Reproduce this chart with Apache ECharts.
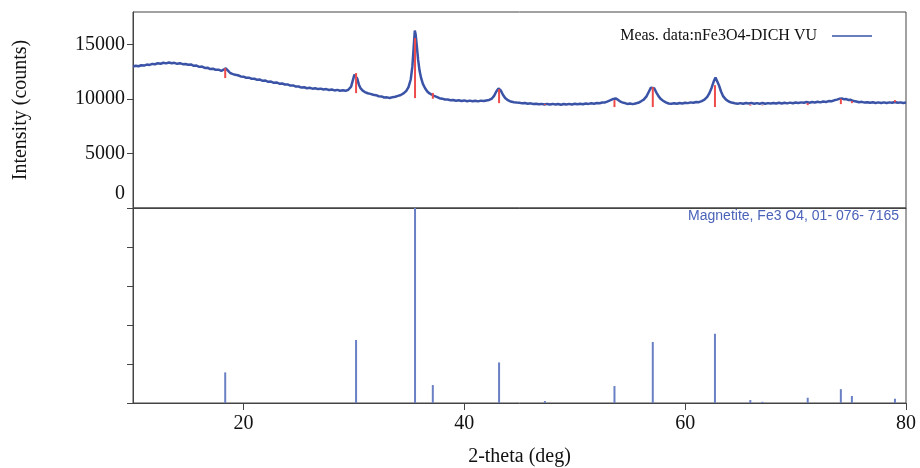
<!DOCTYPE html>
<html>
<head>
<meta charset="utf-8">
<script src="https://cdn.jsdelivr.net/npm/echarts@6/dist/echarts.min.js"></script>
<style>html,body{margin:0;padding:0;background:#fff}#c{width:920px;height:468px}</style>
</head>
<body>
<div id="c"></div>
<script>
// Measured pattern (2-theta, counts)
const theta = [10.0,10.25,10.5,10.75,11.0,11.25,11.5,11.75,12.0,12.25,12.5,12.75,13.0,13.25,13.5,13.75,14.0,14.25,14.5,14.75,15.0,15.25,15.5,15.75,16.0,16.25,16.5,16.75,17.0,17.25,17.5,17.75,18.0,18.2,18.4,18.6,18.8,19.0,19.25,19.5,19.75,20.0,20.25,20.5,20.75,21.0,21.25,21.5,21.75,22.0,22.25,22.5,22.75,23.0,23.25,23.5,23.75,24.0,24.25,24.5,24.75,25.0,25.25,25.5,25.75,26.0,26.25,26.5,26.75,27.0,27.25,27.5,27.75,28.0,28.25,28.5,28.75,29.0,29.25,29.5,29.75,29.9,30.05,30.15,30.3,30.45,30.6,30.8,31.0,31.25,31.5,31.75,32.0,32.25,32.5,32.75,33.0,33.25,33.5,33.75,34.0,34.25,34.5,34.75,34.95,35.15,35.3,35.42,35.52,35.6,35.7,35.82,35.95,36.1,36.25,36.45,36.65,36.85,37.05,37.25,37.5,37.75,38.0,38.25,38.5,38.75,39.0,39.25,39.5,39.75,40.0,40.25,40.5,40.75,41.0,41.25,41.5,41.75,42.0,42.25,42.5,42.7,42.9,43.1,43.3,43.5,43.7,43.95,44.2,44.5,44.75,45.0,45.25,45.5,45.75,46.0,46.25,46.5,46.75,47.0,47.25,47.5,47.75,48.0,48.25,48.5,48.75,49.0,49.25,49.5,49.75,50.0,50.25,50.5,50.75,51.0,51.25,51.5,51.75,52.0,52.25,52.5,52.75,53.0,53.25,53.5,53.7,53.9,54.1,54.3,54.5,54.75,55.0,55.25,55.5,55.75,56.0,56.25,56.5,56.7,56.9,57.05,57.2,57.4,57.6,57.8,58.0,58.25,58.5,58.75,59.0,59.25,59.5,59.75,60.0,60.25,60.5,60.75,61.0,61.25,61.5,61.75,62.0,62.2,62.4,62.6,62.75,62.9,63.05,63.25,63.45,63.7,63.95,64.2,64.5,64.75,65.0,65.25,65.5,65.75,66.0,66.25,66.5,66.75,67.0,67.25,67.5,67.75,68.0,68.25,68.5,68.75,69.0,69.25,69.5,69.75,70.0,70.25,70.5,70.75,71.0,71.25,71.5,71.75,72.0,72.25,72.5,72.75,73.0,73.25,73.5,73.75,74.0,74.2,74.4,74.6,74.8,75.0,75.25,75.5,75.75,76.0,76.25,76.5,76.75,77.0,77.25,77.5,77.75,78.0,78.25,78.5,78.75,79.0,79.25,79.5,79.75,80.0];
const counts = [13000,13060,13020,13110,13080,13170,13140,13230,13200,13300,13250,13340,13280,13360,13290,13330,13240,13300,13210,13230,13150,13180,13060,13080,12960,12990,12860,12880,12760,12790,12690,12700,12600,12700,12830,12620,12400,12320,12230,12190,12080,12060,11960,11970,11860,11870,11770,11790,11680,11700,11590,11610,11500,11530,11420,11440,11340,11350,11240,11260,11150,11160,11060,11090,11000,11040,10960,11000,10920,10960,10880,10920,10840,10880,10800,10850,10770,10820,10760,10860,11150,11700,12250,12350,11900,11350,11000,10780,10650,10540,10480,10400,10360,10260,10250,10150,10160,10100,10180,10220,10300,10380,10520,10760,11100,11800,13000,14800,16300,15900,14900,13600,12600,11900,11400,11000,10700,10520,10420,10300,10200,10080,10040,9960,9960,9890,9920,9850,9900,9830,9880,9810,9860,9800,9850,9790,9860,9820,9880,9920,10050,10300,10700,10980,10800,10400,10100,9900,9780,9720,9680,9660,9610,9640,9580,9610,9550,9580,9520,9560,9500,9560,9510,9560,9500,9550,9490,9550,9500,9560,9510,9570,9520,9580,9530,9600,9560,9620,9580,9640,9620,9690,9700,9800,9900,10020,10060,9950,9800,9700,9650,9560,9590,9540,9600,9660,9800,9950,10250,10650,11050,11190,11000,10600,10250,10000,9850,9700,9600,9580,9620,9570,9640,9600,9670,9630,9700,9660,9740,9720,9820,9950,10200,10550,11050,11650,11980,11800,11300,10700,10250,9950,9780,9680,9620,9580,9630,9570,9640,9600,9650,9570,9630,9580,9640,9570,9630,9590,9650,9590,9660,9600,9670,9610,9680,9620,9690,9640,9700,9660,9730,9670,9730,9690,9760,9700,9780,9740,9820,9800,9890,9950,10040,10060,9980,10000,9920,9940,9820,9780,9720,9750,9680,9720,9660,9710,9650,9700,9640,9700,9640,9700,9660,9740,9660,9700,9640,9680];

// Reference pattern: Magnetite, Fe3 O4, 01-076-7165
const stickTheta = [18.35,30.2,35.54,37.15,43.15,47.3,53.6,57.07,62.7,65.9,67.0,71.1,74.1,75.1,79.0];
const stickRel   = [15.7,32.3,100,9.2,20.8,1.0,8.7,31.3,35.5,1.5,0.6,2.7,7.1,3.6,2.2];
// Red markers drawn on measured pattern (low, high counts)
const redLow  = [11930,10550,10090,10030,9630,9450,9270,9270,9270,9400,9400,9450,9540,9630,9720];
const redHigh = [12840,12390,15600,10570,10920,9540,9910,11100,11280,9490,9440,9630,10030,9820,9900];

const yTicksTop = [0,5000,10000,15000];
const yTicksBot = [0,20,40,60,80,100];
const xTicks = [20,40,60,80];

const serif = 'Liberation Serif';
const measName = 'Meas. data:nFe3O4-DICH VU';

const measData = theta.map((t,i)=>[t, counts[i]]);
const redData = stickTheta.map((t,i)=>[t, redLow[i], redHigh[i]]);
const stickData = stickTheta.map((t,i)=>[t, stickRel[i]]);

const chart = echarts.init(document.getElementById('c'), null, {renderer:'canvas'});
const axisCol = '#444';
chart.setOption({
  animation:false,
  backgroundColor:'#fff',
  title:{text:'Magnetite, Fe3 O4, 01- 076- 7165', right:21, top:209, padding:0,
    textStyle:{fontFamily:'Liberation Sans', fontSize:14, fontWeight:'normal', color:'#4a62b8'}},
  legend:{data:[{name:measName, icon:'rect'}], right:43, top:23, align:'right', itemWidth:40, itemHeight:1.5,
    textStyle:{fontFamily:serif, fontSize:16, color:'#111', padding:[0,10,0,0]}},
  grid:[
    {left:133, top:12, width:773, height:196, show:true, borderColor:axisCol, borderWidth:1},
    {left:133, top:208, width:773, height:196, show:true, borderColor:axisCol, borderWidth:1}
  ],
  xAxis:[
    {type:'value', gridIndex:0, min:10, max:80, axisLine:{show:true, lineStyle:{color:axisCol}},
     axisTick:{show:false}, axisLabel:{show:false}, splitLine:{show:false}},
    {type:'value', gridIndex:1, min:10, max:80, name:'2-theta (deg)', nameLocation:'middle', nameGap:44,
     nameTextStyle:{fontFamily:serif, fontSize:20, color:'#111'},
     axisLine:{show:true, lineStyle:{color:axisCol}},
     axisTick:{show:true, length:7, lineStyle:{color:axisCol}, customValues:xTicks},
     axisLabel:{fontFamily:serif, fontSize:20, color:'#111', margin:11, customValues:xTicks},
     splitLine:{show:false}}
  ],
  yAxis:[
    {type:'value', gridIndex:0, min:0, max:18000, name:'Intensity (counts)', nameLocation:'middle', nameGap:102,
     nameTextStyle:{fontFamily:serif, fontSize:20, color:'#111'},
     axisLine:{show:true, lineStyle:{color:axisCol}},
     axisTick:{show:true, length:6, lineStyle:{color:axisCol}, customValues:yTicksTop},
     axisLabel:{fontFamily:serif, fontSize:20, color:'#111', margin:8, customValues:yTicksTop,
       formatter:v=> v===0 ? '{z|0}' : String(v),
       rich:{z:{fontFamily:serif, fontSize:20, color:'#111', padding:[0,0,28,0]}}},
     splitLine:{show:false}},
    {type:'value', gridIndex:1, min:0, max:100,
     axisLine:{show:true, lineStyle:{color:axisCol}},
     axisTick:{show:true, length:6, lineStyle:{color:axisCol}, customValues:yTicksBot},
     axisLabel:{show:false}, splitLine:{show:false}}
  ],
  series:[
    {name:measName, type:'line', xAxisIndex:0, yAxisIndex:0, data:measData, showSymbol:false,
     lineStyle:{width:2.5, color:'#3a53a6'}, itemStyle:{color:'#3a53a6'}, z:2},
    {name:'refRed', type:'custom', xAxisIndex:0, yAxisIndex:0, data:redData, z:3,
     encode:{x:0, y:[1,2]},
     renderItem:(params, api)=>{
       const p0 = api.coord([api.value(0), api.value(1)]);
       const p1 = api.coord([api.value(0), api.value(2)]);
       return {type:'line', shape:{x1:p0[0], y1:p0[1], x2:p1[0], y2:p1[1]}, style:{stroke:'#ee4b4b', lineWidth:2}};
     }},
    {name:'sticks', type:'custom', xAxisIndex:1, yAxisIndex:1, data:stickData, z:3,
     encode:{x:0, y:1},
     renderItem:(params, api)=>{
       const p0 = api.coord([api.value(0), 0]);
       const p1 = api.coord([api.value(0), api.value(1)]);
       return {type:'line', shape:{x1:p0[0], y1:p0[1], x2:p1[0], y2:p1[1]}, style:{stroke:'#6a80c4', lineWidth:2}};
     }}
  ]
});
</script>
</body>
</html>
